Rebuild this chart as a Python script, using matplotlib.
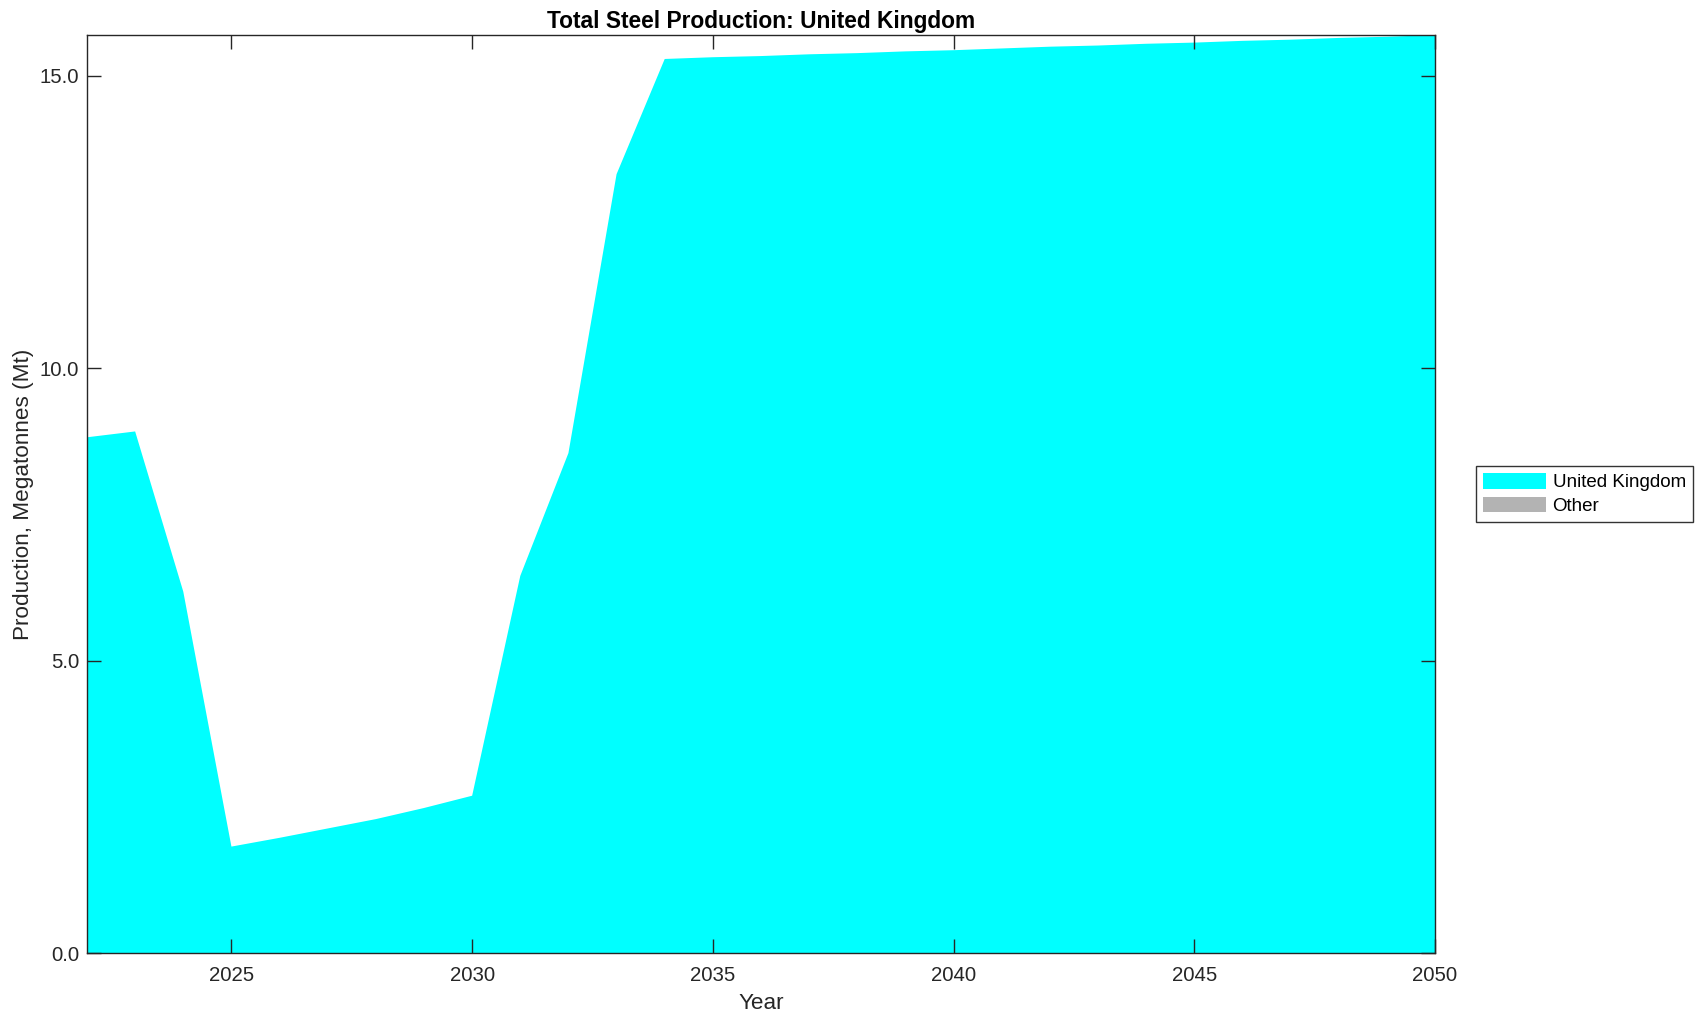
import matplotlib
matplotlib.use("Agg")
import matplotlib.pyplot as plt
from matplotlib.ticker import FormatStrFormatter

plt.rcParams['font.family'] = ['Liberation Sans', 'DejaVu Sans']

years = list(range(2022, 2051))
uk = [8.82, 8.92, 6.18, 1.82, 1.97, 2.13, 2.29, 2.48, 2.69,
      6.45, 8.55, 13.32, 15.29,
      15.32, 15.34, 15.37, 15.39, 15.42, 15.44, 15.47, 15.50,
      15.52, 15.55, 15.57, 15.60, 15.62, 15.65, 15.67, 15.70]
other = [0.0] * len(years)

series_labels = ["United Kingdom", "Other"]
series_colors = ["#00ffff", "#b3b3b3"]

fig = plt.figure(figsize=(17.07, 10.21), dpi=100)
ax = fig.add_axes([87 / 1707, 1 - 953 / 1021, 1348 / 1707, 918 / 1021])

ax.stackplot(years, uk, other, colors=series_colors, labels=series_labels, linewidth=0)

ax.set_xlim(2022, 2050)
ax.set_ylim(0, max(uk))
ax.set_xticks([2025, 2030, 2035, 2040, 2045, 2050])
ax.set_yticks([0, 5, 10, 15])
ax.yaxis.set_major_formatter(FormatStrFormatter("%.1f"))

ax.tick_params(direction="in", length=10, width=1, colors="#262626",
               labelsize=14.7, top=True, right=True)
ax.tick_params(axis="x", pad=9)
ax.tick_params(axis="y", pad=5.8)
for sp in ax.spines.values():
	sp.set_color("#262626")
	sp.set_linewidth(1)

ax.set_title("Total Steel Production: United Kingdom", fontsize=16.4,
             fontweight="bold", pad=5)
ax.set_xlabel("Year", fontsize=16.2, color="#262626")
ax.set_ylabel("Production, Megatonnes (Mt)", fontsize=16.2, color="#262626")
ax.xaxis.set_label_coords(0.5, -0.0435)
ax.yaxis.set_label_coords(-0.039, 0.5)

leg = ax.legend(loc="center left", bbox_to_anchor=(1.0302, 0.5), fontsize=13.5,
                frameon=True, fancybox=False, edgecolor="black", borderaxespad=0,
                handlelength=3.36, handleheight=0.9, handletextpad=0.37,
                labelspacing=0.3, borderpad=0.37)
leg.get_frame().set_linewidth(1)

fig.savefig("out.png", dpi=100)
